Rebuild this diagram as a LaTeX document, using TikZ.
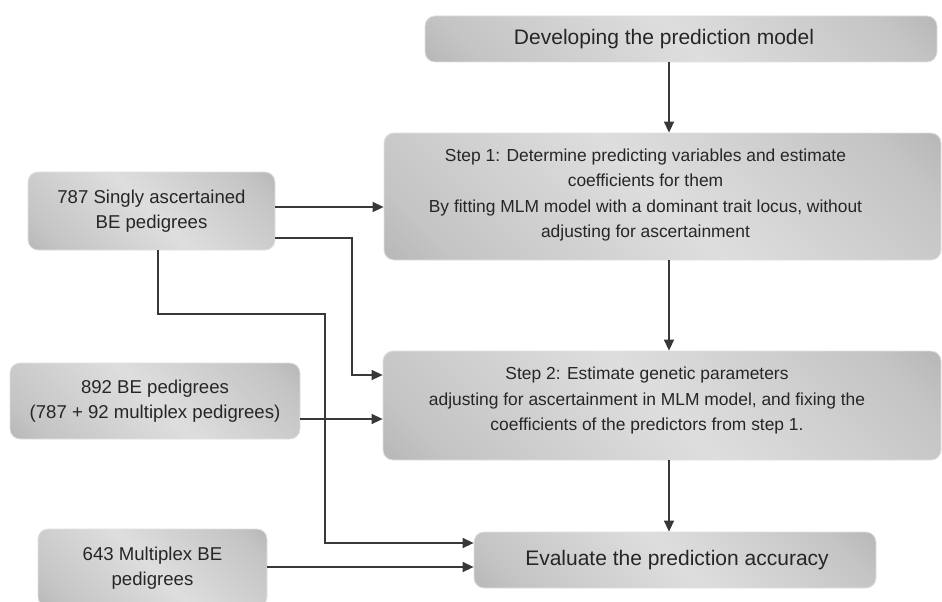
\documentclass[tikz,border=0pt]{standalone}
\usepackage{fontspec}
\setmainfont{Liberation Sans}
\usetikzlibrary{arrows.meta}
\definecolor{boxdark}{HTML}{9E9EA0}
\definecolor{boxmid}{HTML}{C4C4C5}
\definecolor{boxlight}{HTML}{DEDEDF}
\definecolor{linecol}{HTML}{383838}
\definecolor{txtcol}{HTML}{262626}
\pgfdeclareverticalshading{boxshade}{100bp}{color(0bp)=(boxdark); color(22bp)=(boxmid); color(50bp)=(boxlight); color(78bp)=(boxmid); color(100bp)=(boxdark)}
\begin{document}
\begin{tikzpicture}[x=1pt,y=-1pt,
  box/.style={draw=white!88!black, line width=0.8pt, rounded corners=10pt,
    shading=boxshade, shading angle=135,
    text=txtcol, align=center, inner sep=0pt},
  bigtxt/.style={font=\fontsize{21}{25}\selectfont},
  steptxt/.style={font=\fontsize{17.4}{25.2}\selectfont},
  smalltxt/.style={font=\fontsize{18.6}{25}\selectfont},
  conn/.style={draw=linecol, line width=1.4pt, -{Triangle[length=11pt,width=10pt]}}]
\useasboundingbox (0,0) rectangle (942,602);
\clip (0,0) rectangle (942,602);
\fill[white] (0,0) rectangle (942,602);

% boxes
\node[box, minimum width=512pt, minimum height=46pt,
  label={[bigtxt, text=txtcol, xshift=-17pt]center:Developing the prediction model}]
  (top) at (681,39) {};
\node[box, minimum width=557pt, minimum height=127pt,
  label={[steptxt, text=txtcol, align=center, xshift=-17pt, yshift=1.5pt]center:{Step 1: Determine predicting variables and estimate\\coefficients for them\\By fitting MLM model with a dominant trait locus, without\\adjusting for ascertainment}}]
  (step1) at (662.5,196.5) {};
\node[box, minimum width=558pt, minimum height=109pt,
  label={[steptxt, text=txtcol, align=center, xshift=-15pt, yshift=5pt]center:{Step 2: Estimate genetic parameters\\adjusting for ascertainment in MLM model, and fixing the\\coefficients of the predictors from step 1.}}]
  (step2) at (662,405.5) {};
\node[box, bigtxt, minimum width=402pt, minimum height=56pt] (eval) at (675,560)
  {\hspace*{4pt}Evaluate the prediction accuracy};
\node[box, smalltxt, minimum width=247pt, minimum height=78pt] (b787) at (151.5,211)
  {787 Singly ascertained\\BE pedigrees};
\node[box, smalltxt, minimum width=290pt, minimum height=76pt] (b892) at (155,401)
  {892 BE pedigrees\\(787 + 92 multiplex pedigrees)};
\node[box, smalltxt, minimum width=229pt, minimum height=78pt] (b643) at (152.5,568)
  {643 Multiplex BE\\pedigrees};

% helper coordinates
\coordinate (ax) at (669,0);
\coordinate (r1) at (0,207);
\coordinate (r2) at (0,238);
\coordinate (jx) at (352,0);
\coordinate (s2a) at (0,375);
\coordinate (s2b) at (0,419);
\coordinate (vx1) at (158,0);
\coordinate (h1) at (0,314);
\coordinate (vx2) at (325,0);
\coordinate (ev1) at (0,543);
\coordinate (ev2) at (0,567);

% connectors
\draw[conn] (top.south -| ax) -- (step1.north -| ax);
\draw[conn] (step1.south -| ax) -- (step2.north -| ax);
\draw[conn] (step2.south -| ax) -- (eval.north -| ax);
\draw[conn] (b787.east |- r1) -- (step1.west |- r1);
\draw[conn] (b787.east |- r2) -- (jx |- r2) -- (jx |- s2a) -- (step2.west |- s2a);
\draw[conn] (b787.south -| vx1) -- (vx1 |- h1) -- (vx2 |- h1) -- (vx2 |- ev1) -- (eval.west |- ev1);
\draw[conn] (b892.east |- s2b) -- (step2.west |- s2b);
\draw[conn] (b643.east |- ev2) -- (eval.west |- ev2);
\end{tikzpicture}
\end{document}
